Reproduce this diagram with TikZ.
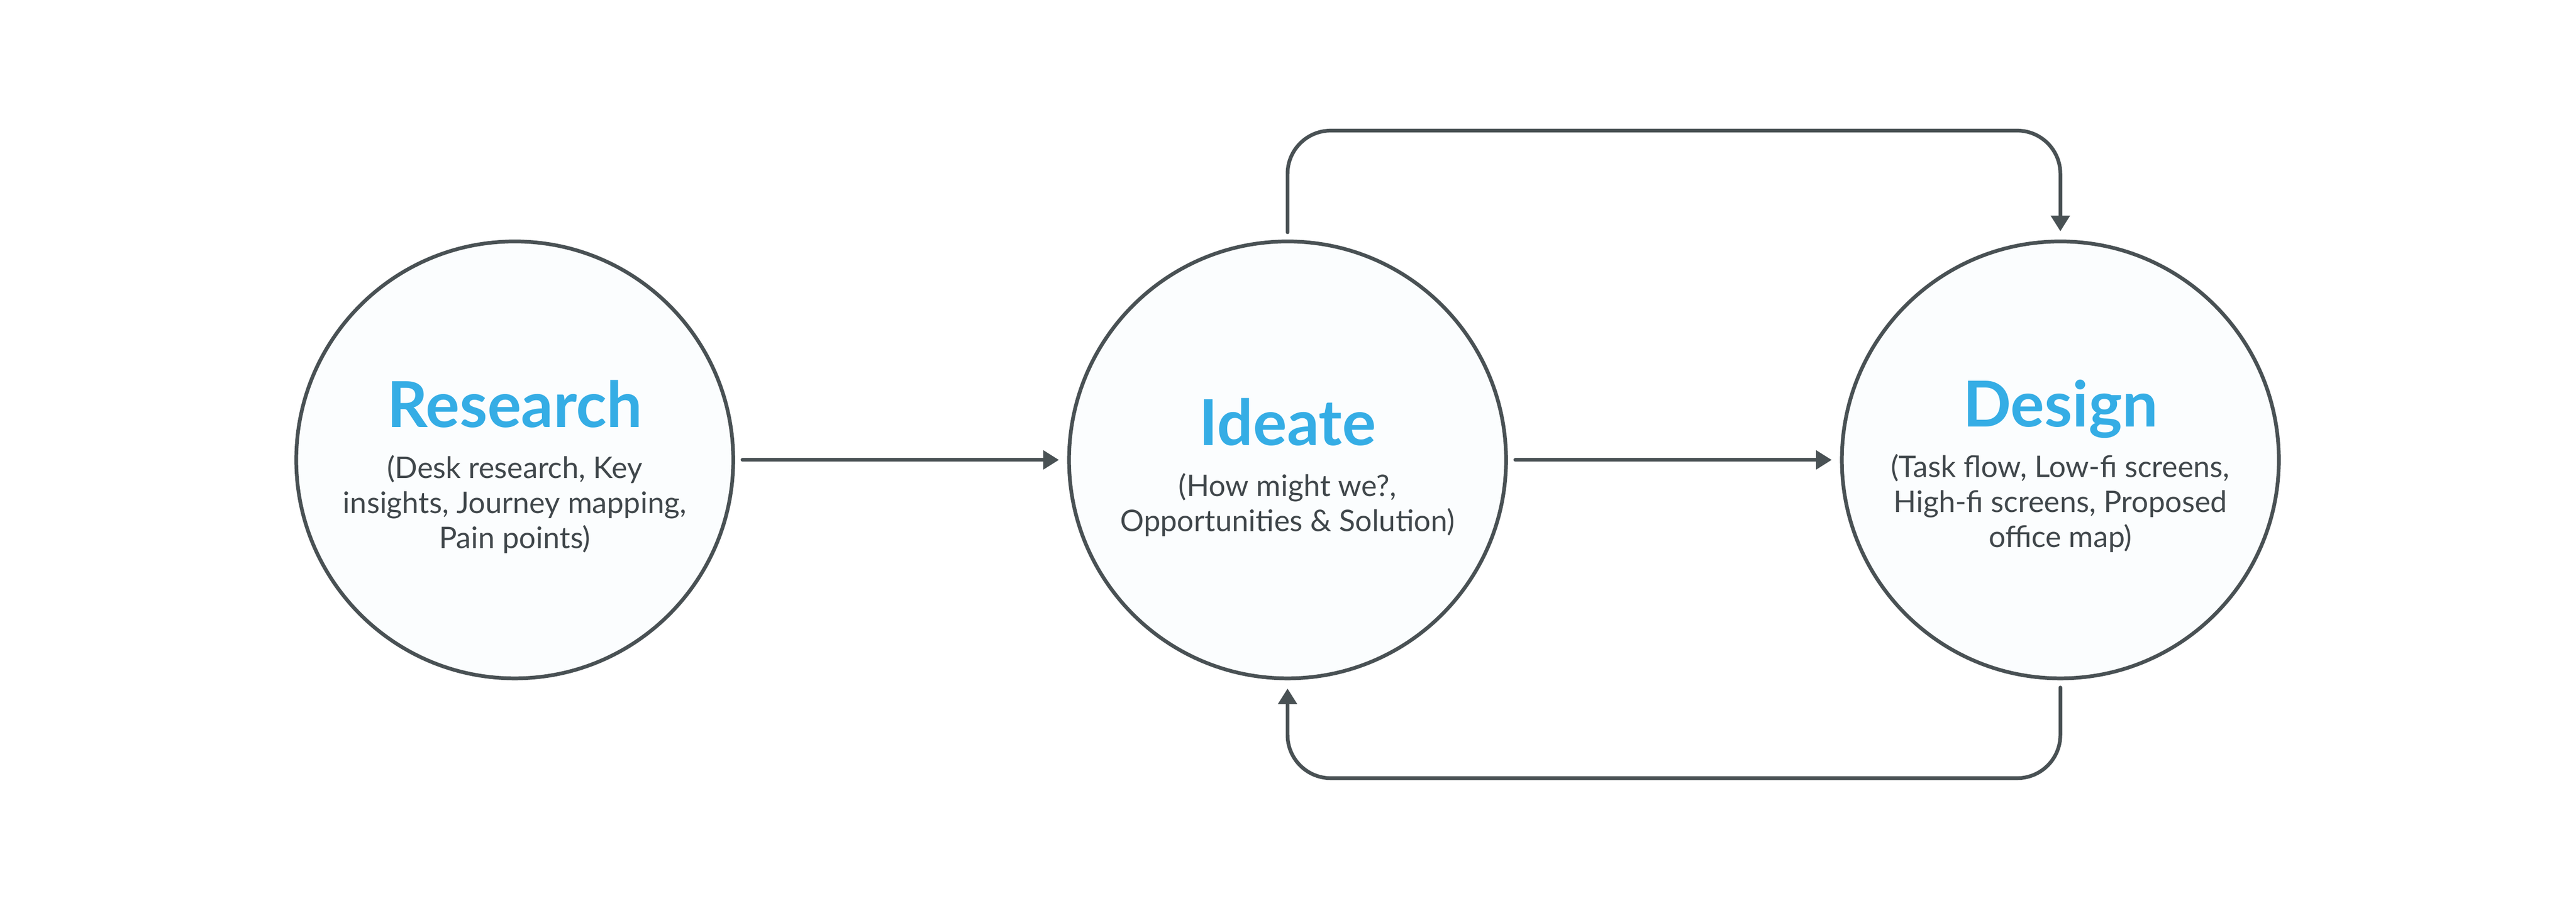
\documentclass[tikz,border=0pt]{standalone}
\usepackage{fontspec}
\setmainfont{Lato}
\usetikzlibrary{arrows.meta, calc, positioning}
\definecolor{linegrey}{HTML}{495154}
\definecolor{textgrey}{HTML}{40474B}
\definecolor{stageblue}{HTML}{35ADE5}
\definecolor{circfill}{HTML}{FBFDFE}

\begin{document}
\begin{tikzpicture}[stage/.style={draw=linegrey, line width=1.15pt, fill=circfill, circle, minimum size=4.75cm, inner sep=0pt, outer sep=0pt}, heading/.style={text=stageblue, font=\fontsize{19.6pt}{20pt}\selectfont\bfseries, anchor=base, inner sep=0pt}, detail/.style={text=textgrey, font=\fontsize{9.2pt}{10.8pt}\selectfont, align=center, anchor=base, inner sep=0pt}, flow/.style={draw=linegrey, line width=1.15pt, line cap=round, -{Triangle[length=0.17cm, width=0.2cm]}, shorten <=0.1cm, shorten >=0.11cm}]
				\useasboundingbox (0,0) rectangle (28,10);
				
				\node[stage] (rcirc) at (5.595,5) {};
				\node[heading] (rtitle) at ($(rcirc) + (0,0.355)$) {Research};
				\node[detail] (rtext) at ($(rcirc) - (0,0.96)$) {(Desk research, Key\\insights, Journey mapping,\\Pain points)};
				
				\node[stage] (icirc) at (13.995,5) {};
				\node[heading] (ititle) at ($(icirc) + (0,0.16)$) {Ideate};
				\node[detail] (itext) at ($(icirc) - (0,0.775)$) {(How might we?,\\Opportunities \& Solution)};
				
				\node[stage] (dcirc) at (22.395,5) {};
				\node[heading] (dtitle) at ($(dcirc) + (0,0.36)$) {Design};
				\node[detail] (dtext) at ($(dcirc) - (0,0.95)$) {(Task flow, Low-fi screens,\\High-fi screens, Proposed\\office map)};
				
				\draw[flow] (rcirc) -- (icirc);
				\draw[flow] (icirc) -- (dcirc);
				
				\draw[flow, rounded corners=0.47cm] (icirc.north) -- ++(0,1.205) -| (dcirc.north);
				\draw[flow, rounded corners=0.47cm] (dcirc.south) -- ++(0,-1.085) -| (icirc.south);
				
				\end{tikzpicture}
\end{document}
